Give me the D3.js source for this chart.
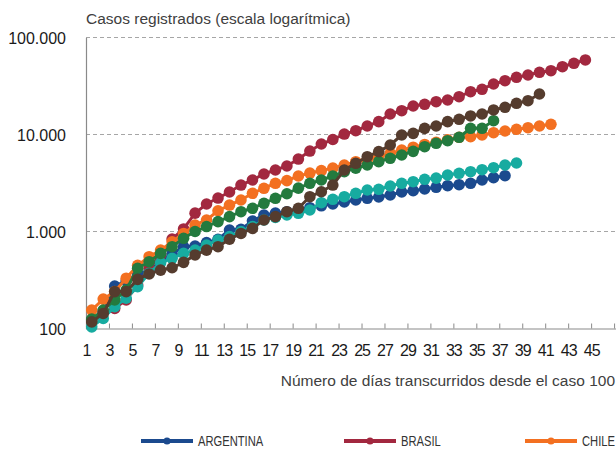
<!DOCTYPE html>
<html>
<head>
<meta charset="utf-8">
<script src="https://cdnjs.cloudflare.com/ajax/libs/d3/7.8.5/d3.min.js"></script>
<style>
  html, body { margin: 0; padding: 0; background: #ffffff; }
  svg { display: block; }
  text { font-family: "Liberation Sans", Arial, Helvetica, sans-serif; }
</style>
</head>
<body>
<svg id="chart" width="616" height="452"></svg>
<script>
// Cumulative registered cases by day since the 100th case
const days = d3.range(1, 48);
const yTicks = [100, 1000, 10000, 100000];

const argentina = [122, 150, 274, 309, 370, 390, 500, 590, 697, 708, 767, 832, 1036, 1053, 1282, 1479, 1545, 1600, 1680, 1760, 1840, 1920, 2014, 2113, 2200, 2268, 2378, 2553, 2634, 2742, 2855, 2967, 3038, 3140, 3396, 3586, 3761];
const brasil = [122, 148, 161, 197, 281, 421, 573, 837, 1062, 1545, 1920, 2213, 2553, 3013, 3396, 3917, 4305, 4736, 5585, 6754, 7985, 8878, 10110, 10940, 12240, 13560, 16270, 17590, 19680, 20470, 21780, 22690, 24540, 27620, 29240, 33170, 35870, 38890, 41050, 43780, 45460, 50000, 54200, 58660];
const chile = [155, 201, 240, 330, 448, 550, 643, 783, 955, 1167, 1314, 1636, 1873, 2113, 2477, 2788, 3140, 3342, 3733, 4000, 4250, 4500, 4849, 5244, 5458, 5902, 6396, 6920, 7400, 7900, 8300, 8800, 9357, 9491, 9882, 10437, 10866, 11315, 11750, 12240, 12740];
const colombia = [104, 127, 168, 205, 270, 371, 476, 529, 595, 643, 725, 817, 885, 1000, 1125, 1314, 1400, 1480, 1540, 1666, 1982, 2148, 2285, 2477, 2679, 2723, 2945, 3140, 3262, 3452, 3550, 3824, 3981, 4135, 4335, 4547, 4849, 5084];
const mexico = [125, 155, 197, 249, 418, 488, 595, 697, 851, 1000, 1125, 1265, 1422, 1600, 1735, 1953, 2200, 2450, 2800, 3140, 3396, 3733, 4135, 4487, 4849, 5248, 5686, 6150, 6700, 7484, 8117, 8630, 9357, 11584, 11584, 13880];
const peru = [117, 143, 240, 240, 321, 365, 400, 423, 481, 573, 643, 697, 832, 955, 1077, 1314, 1422, 1600, 1735, 2285, 2570, 3013, 4305, 5050, 5902, 6653, 7797, 9883, 10280, 11570, 12240, 13560, 14350, 15530, 16270, 17900, 19070, 20970, 22320, 26160];

const series = [
  { name: "ARGENTINA", values: argentina, color: "#1b4a8e", legend: true },
  { name: "BRASIL",    values: brasil,    color: "#a2283f", legend: true },
  { name: "CHILE",     values: chile,     color: "#f37021", legend: true },
  { name: "COLOMBIA",  values: colombia,  color: "#17aba0", legend: false },
  { name: "MÉXICO",    values: mexico,    color: "#237a3e", legend: false },
  { name: "PERÚ",      values: peru,      color: "#553c2e", legend: false }
];

const svg = d3.select("#chart");
const left = 86, step = 11.48;
const plotRight = 616;

// category edges: day d occupies [x(d), x(d+1)], marks sit at the centre
const x = d3.scaleLinear().domain([1, 48]).range([left, left + 47 * step]);
const y = d3.scaleLog().domain([100, 100000]).range([328.5, 37.5]);

const fmt = v => d3.format(",")(v).replace(/,/g, ".");

// horizontal dashed grid
svg.append("g")
  .selectAll("line")
  .data(yTicks.slice(1))
  .join("line")
  .attr("x1", left).attr("x2", plotRight)
  .attr("y1", d => y(d)).attr("y2", d => y(d))
  .attr("stroke", "#a6a6a6")
  .attr("stroke-width", 1)
  .attr("stroke-dasharray", "4,3");

// y axis
const yAxis = svg.append("g")
  .attr("transform", `translate(${left},0)`)
  .call(d3.axisLeft(y).tickValues(yTicks).tickFormat(fmt).tickSize(0).tickPadding(20));
yAxis.select(".domain").attr("stroke", "#8a8a8a").attr("stroke-width", 1.2);
yAxis.selectAll("text")
  .attr("font-size", 16)
  .attr("fill", "#1a1a1a")
  .attr("dy", "0.36em");

// x axis, ticks every second day pointing into the plot
const xTickVals = days.filter(d => d % 2 === 1);
const xAxis = svg.append("g")
  .attr("transform", `translate(0,${y(100)})`)
  .call(d3.axisBottom(x)
    .tickValues(xTickVals)
    .tickFormat(d => d <= 45 ? d : "")
    .tickSizeInner(-5)
    .tickSizeOuter(0)
    .tickPadding(16));
xAxis.select(".domain").attr("stroke", "#8a8a8a").attr("stroke-width", 1.2)
  .attr("d", `M${left},0.5H${plotRight}`);
xAxis.selectAll(".tick line").attr("stroke", "#8a8a8a");
xAxis.selectAll("text")
  .attr("font-size", 16)
  .attr("fill", "#1a1a1a")
  .attr("letter-spacing", "-1px");

// axis titles
svg.append("text")
  .attr("x", left).attr("y", 24)
  .attr("font-size", 15.5)
  .attr("fill", "#404040")
  .text("Casos registrados (escala logarítmica)");

svg.append("text")
  .attr("x", 615).attr("y", 386)
  .attr("text-anchor", "end")
  .attr("font-size", 15.5)
  .attr("fill", "#404040")
  .text("Número de días transcurridos desde el caso 100");

// series lines and markers
const cx = i => x(i + 1.5);
const line = d3.line().x((v, i) => cx(i)).y(v => y(v));

const groups = svg.append("g")
  .selectAll("g")
  .data(series)
  .join("g");

groups.append("path")
  .attr("d", s => line(s.values))
  .attr("fill", "none")
  .attr("stroke", s => s.color)
  .attr("stroke-width", 3);

groups.selectAll("circle")
  .data(s => s.values.map((v, i) => ({ v, i, color: s.color })))
  .join("circle")
  .attr("cx", d => cx(d.i))
  .attr("cy", d => y(d.v))
  .attr("r", 5.8)
  .attr("fill", d => d.color);

// legend
const legendX = [141, 344, 525];
const legend = svg.append("g")
  .selectAll("g")
  .data(series.filter(s => s.legend))
  .join("g")
  .attr("transform", (s, i) => `translate(${legendX[i]},441)`);

legend.append("line")
  .attr("x1", 0).attr("x2", 52)
  .attr("stroke", s => s.color)
  .attr("stroke-width", 4);
legend.append("circle")
  .attr("cx", 26).attr("r", 3.6)
  .attr("fill", s => s.color);
legend.append("text")
  .attr("transform", "translate(57,5) scale(0.8,1)")
  .attr("font-size", 14)
  .attr("fill", "#333333")
  .text(s => s.name);
</script>
</body>
</html>
